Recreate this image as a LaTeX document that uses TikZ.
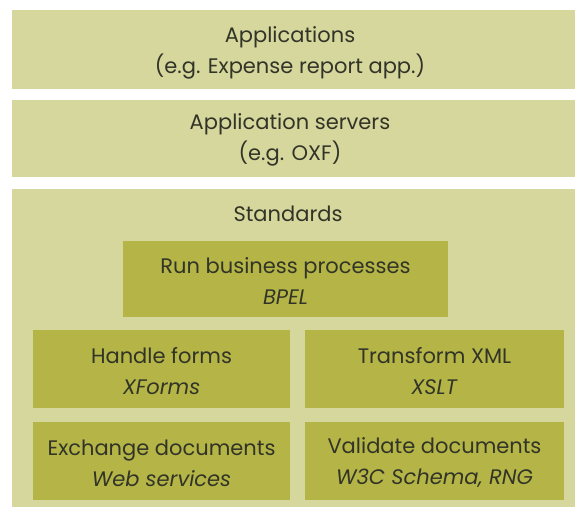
\documentclass[tikz,border=0pt]{standalone}
\usepackage{fontspec}
\setmainfont{Poppins}
\definecolor{layerfill}{RGB}{214,215,156}
\definecolor{blockfill}{RGB}{180,181,70}
\definecolor{inkdark}{RGB}{50,52,40}
\tikzset{
  layer/.style={fill=layerfill, draw=none},
  block/.style={fill=blockfill, draw=none},
  caption/.style={text=inkdark, font=\fontsize{21}{31}\selectfont, align=center, inner sep=0pt},
}
\begin{document}
\begin{tikzpicture}[x=1pt, y=-1pt]
  \useasboundingbox[fill=white] (0,0) rectangle (575,517);
  % layers
  \path[layer] (12,10) rectangle (575,89);
  \path[layer] (12,100) rectangle (575,177);
  \path[layer] (12,189) rectangle (575,507);
  \node[caption] (apps) at (290,53) {Applications\\(e.g. Expense report app.)};
  \node[caption] (servers) at (290,140) {Application servers\\(e.g. OXF)};
  \node[caption] (std) at (288,214) {Standards};
  % standards blocks
  \path[block] (123,241) rectangle (448,317);
  \path[block] (33,330) rectangle (290,408);
  \path[block] (305,330) rectangle (564,408);
  \path[block] (33,422) rectangle (290,500);
  \path[block] (305,422) rectangle (564,500);
  \node[caption] (bpel) at (285.5,281) {Run business processes\\\textit{BPEL}};
  \node[caption] (forms) at (161.5,371) {Handle forms\\\textit{XForms}};
  \node[caption] (xslt) at (434.5,371) {Transform XML\\\textit{XSLT}};
  \node[caption] (ws) at (161.5,463) {Exchange documents\\\textit{Web services}};
  \node[caption] (valid) at (434.5,463) {Validate documents\\\textit{W3C Schema, RNG}};
\end{tikzpicture}
\end{document}
